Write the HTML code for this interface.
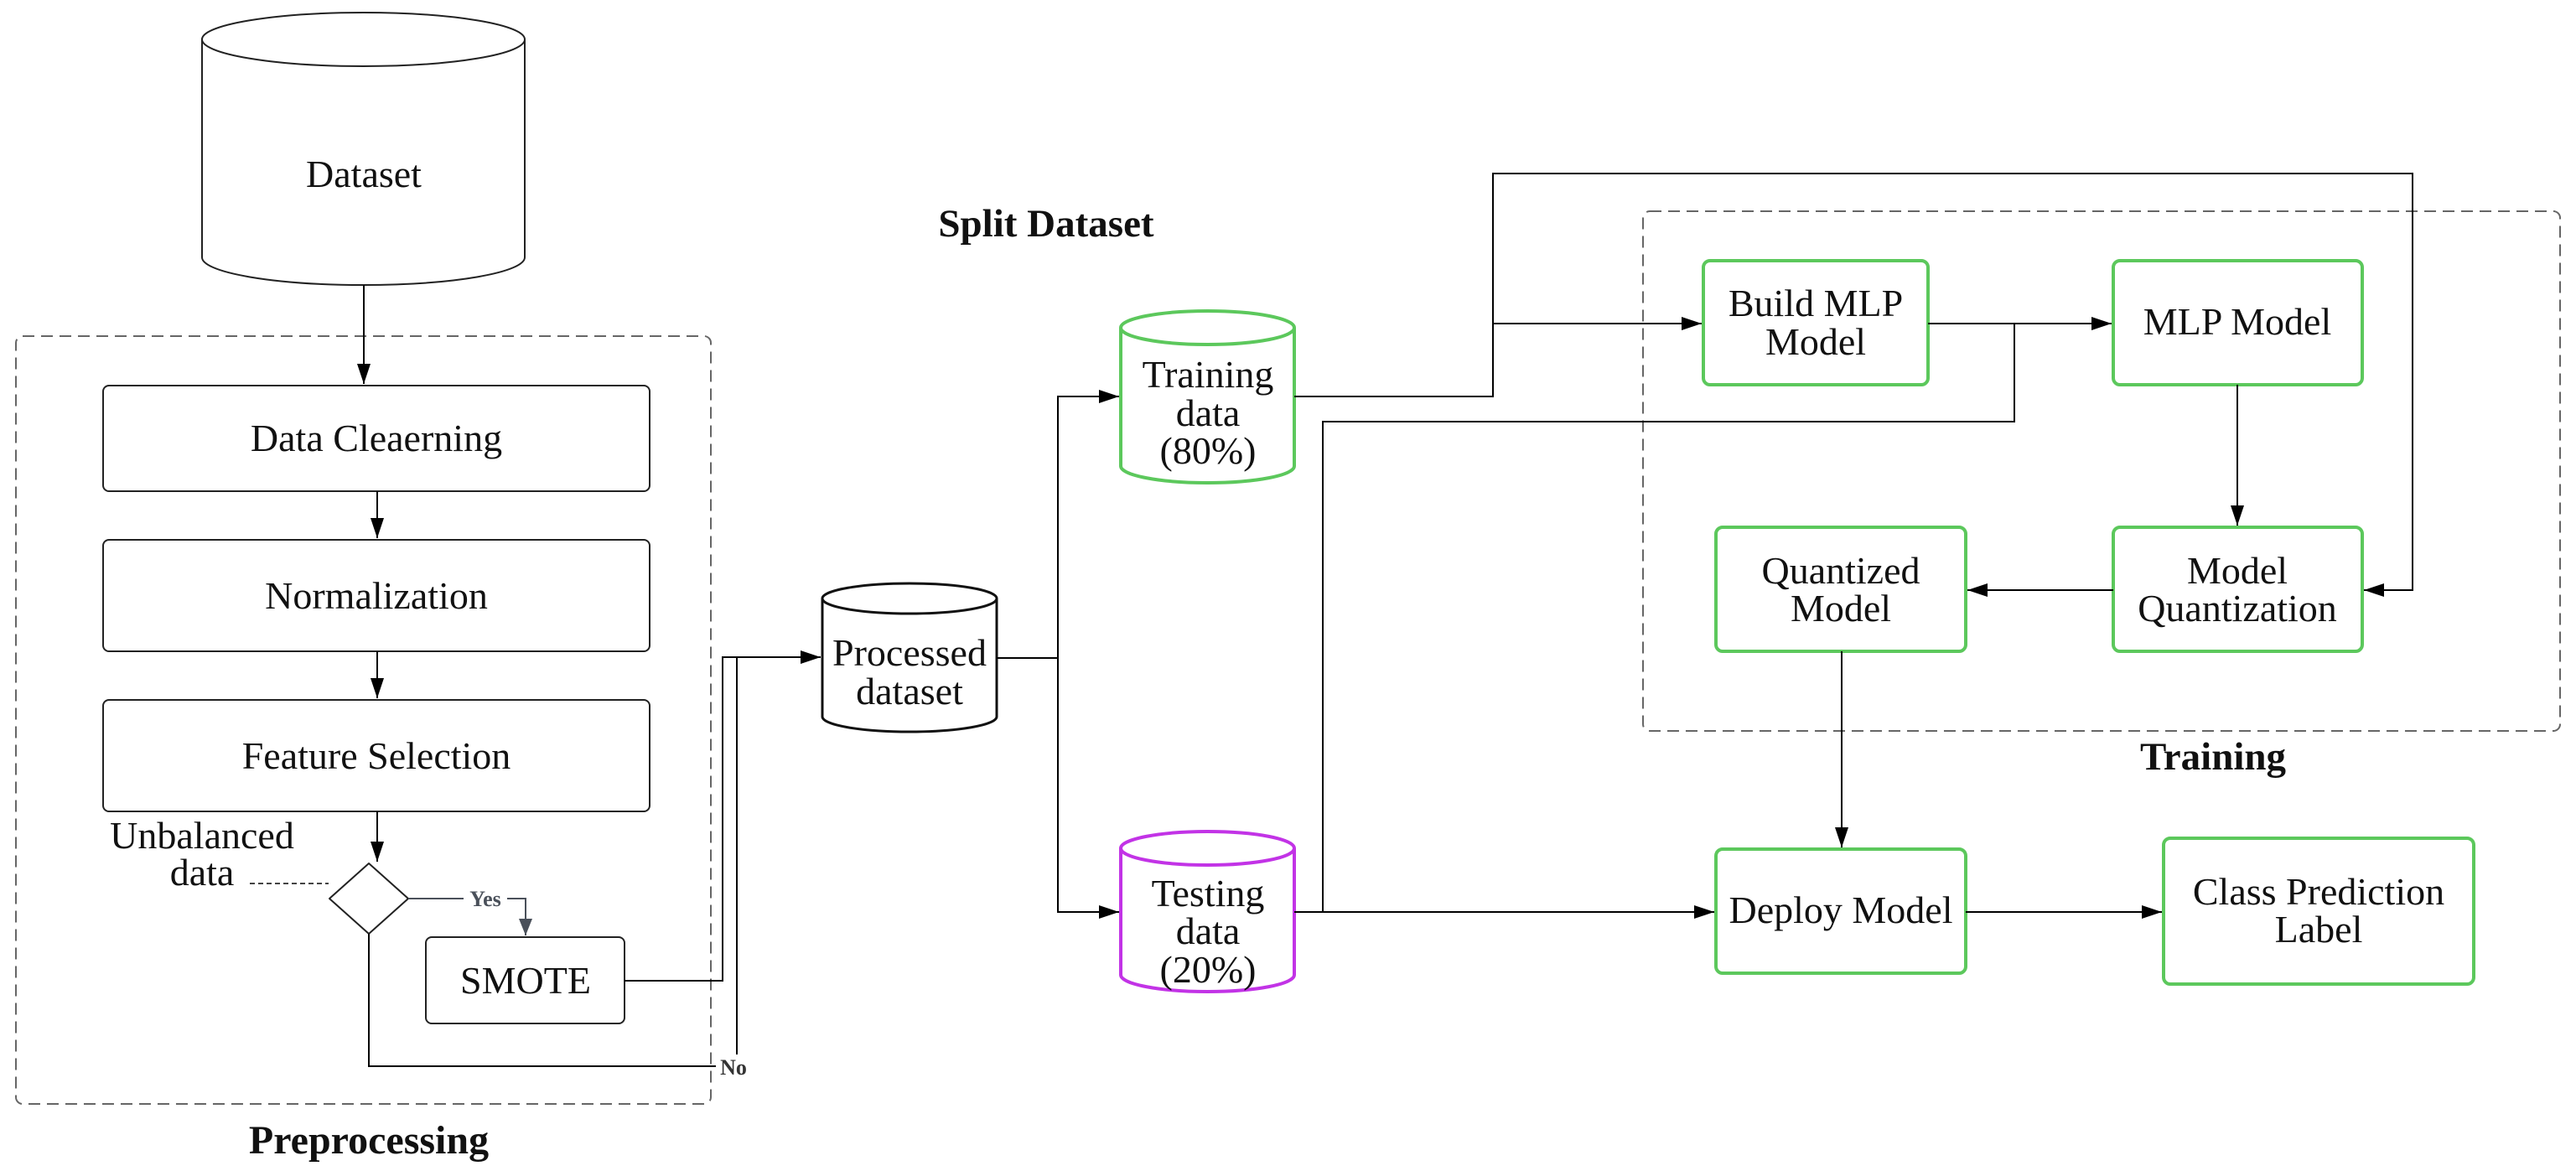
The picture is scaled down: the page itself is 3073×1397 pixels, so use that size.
<!DOCTYPE html>
<html><head><meta charset="utf-8"><style>
html,body{margin:0;padding:0;background:#fff;}
svg{display:block;}
text{font-family:"Liberation Serif",serif;fill:#111;}
</style></head><body>
<svg width="3073" height="1397" viewBox="0 0 3073 1397" xmlns="http://www.w3.org/2000/svg">
<defs>
<marker id="a" markerUnits="userSpaceOnUse" markerWidth="26" markerHeight="18" refX="24" refY="9" orient="auto"><path d="M0,1 L24,9 L0,17 z" fill="#000"/></marker>
<marker id="g" markerUnits="userSpaceOnUse" markerWidth="22" markerHeight="18" refX="20" refY="9" orient="auto"><path d="M0,1 L20,9 L0,17 z" fill="#4a505a"/></marker>
</defs>
<g fill="none" stroke="#666" stroke-width="2" stroke-dasharray="14,8">
<rect x="19" y="401" width="829" height="916" rx="8"/>
<rect x="1960" y="252" width="1094" height="620" rx="8"/>
</g>
<g fill="#fff" stroke="#222" stroke-width="2">
<path d="M241,47 V307 A192.5,33 0 0 0 626,307 V47"/>
<ellipse cx="433.5" cy="47" rx="192.5" ry="32"/>
</g>
<text x="434" y="223" font-size="46" text-anchor="middle">Dataset</text>
<g fill="#fff" stroke="#222" stroke-width="2">
<rect x="123" y="460" width="652" height="126" rx="7"/>
<rect x="123" y="644" width="652" height="133" rx="7"/>
<rect x="123" y="835" width="652" height="133" rx="7"/>
<rect x="508" y="1118" width="237" height="103" rx="7"/>
<path d="M440,1030 L487,1072 L440,1114 L393,1072 Z" stroke-linejoin="round"/>
</g>
<g font-size="46" text-anchor="middle">
<text x="449" y="538">Data Cleaerning</text>
<text x="449" y="726">Normalization</text>
<text x="449" y="917">Feature Selection</text>
<text x="627" y="1185">SMOTE</text>
<text x="241" y="1012">Unbalanced</text>
<text x="241" y="1056">data</text>
</g>
<g fill="none" stroke="#000" stroke-width="2">
<path d="M434,340 V458" marker-end="url(#a)"/>
<path d="M450,586 V642" marker-end="url(#a)"/>
<path d="M450,777 V833" marker-end="url(#a)"/>
<path d="M450,968 V1028" marker-end="url(#a)"/>
<path d="M298,1054 H392" stroke-dasharray="6,4" stroke="#444"/>
<path d="M487,1072 H627 V1116" stroke="#4a505a" marker-end="url(#g)"/>
<path d="M745,1170 H862 V784 H979" marker-end="url(#a)"/>
<path d="M440,1114 V1272 H879 V784"/>
</g>
<rect x="553" y="1058" width="52" height="28" fill="#fff"/>
<text x="579" y="1081" font-size="26" font-weight="bold" text-anchor="middle" style="fill:#4a505a">Yes</text>
<rect x="854" y="1258" width="42" height="28" fill="#fff"/>
<text x="875" y="1282" font-size="26" font-weight="bold" text-anchor="middle" style="fill:#333">No</text>
<text x="440" y="1376" font-size="48" font-weight="bold" text-anchor="middle">Preprocessing</text>
<text x="1248" y="282" font-size="47" font-weight="bold" text-anchor="middle">Split Dataset</text>
<text x="2640" y="918" font-size="47" font-weight="bold" text-anchor="middle">Training</text>
<g fill="#fff" stroke="#111" stroke-width="3">
<path d="M981,714 V855 A104,18 0 0 0 1189,855 V714"/>
<ellipse cx="1085" cy="714" rx="104" ry="18"/>
</g>
<text x="1085" y="794" font-size="46" text-anchor="middle">Processed</text>
<text x="1085" y="840" font-size="46" text-anchor="middle">dataset</text>
<g fill="#fff" stroke="#5cc85c" stroke-width="4">
<path d="M1337,391 V556 A103.5,20 0 0 0 1544,556 V391"/>
<ellipse cx="1440.5" cy="391" rx="103.5" ry="20"/>
</g>
<g font-size="46" text-anchor="middle">
<text x="1441" y="462">Training</text>
<text x="1441" y="508">data</text>
<text x="1441" y="553">(80%)</text>
</g>
<g fill="#fff" stroke="#c233e6" stroke-width="4">
<path d="M1337,1012 V1163 A103.5,20 0 0 0 1544,1163 V1012"/>
<ellipse cx="1440.5" cy="1012" rx="103.5" ry="20"/>
</g>
<g font-size="46" text-anchor="middle">
<text x="1441" y="1081">Testing</text>
<text x="1441" y="1126">data</text>
<text x="1441" y="1172">(20%)</text>
</g>
<g fill="#fff" stroke="#5cc85c" stroke-width="4">
<rect x="2032" y="311" width="268" height="148" rx="8"/>
<rect x="2521" y="311" width="297" height="148" rx="8"/>
<rect x="2521" y="629" width="297" height="148" rx="8"/>
<rect x="2047" y="629" width="298" height="148" rx="8"/>
<rect x="2047" y="1013" width="298" height="148" rx="8"/>
<rect x="2581" y="1000" width="370" height="174" rx="8"/>
</g>
<g font-size="46" text-anchor="middle">
<text x="2166" y="377">Build MLP</text>
<text x="2166" y="423">Model</text>
<text x="2669" y="399">MLP Model</text>
<text x="2669" y="696">Model</text>
<text x="2669" y="741">Quantization</text>
<text x="2196" y="696">Quantized</text>
<text x="2196" y="741">Model</text>
<text x="2196" y="1101">Deploy Model</text>
<text x="2766" y="1079">Class Prediction</text>
<text x="2766" y="1124">Label</text>
</g>
<g fill="none" stroke="#000" stroke-width="2">
<path d="M1189,785 H1262 V473 H1335" marker-end="url(#a)"/>
<path d="M1262,785 V1088 H1335" marker-end="url(#a)"/>
<path d="M1544,473 H1781 V386 H2030" marker-end="url(#a)"/>
<path d="M1781,386 V207 H2878 V704 H2820" marker-end="url(#a)"/>
<path d="M1544,1088 H2045" marker-end="url(#a)"/>
<path d="M1578,1088 V503 H2403 V386"/>
<path d="M2300,386 H2519" marker-end="url(#a)"/>
<path d="M2669,459 V627" marker-end="url(#a)"/>
<path d="M2521,704 H2347" marker-end="url(#a)"/>
<path d="M2197,777 V1011" marker-end="url(#a)"/>
<path d="M2345,1088 H2579" marker-end="url(#a)"/>
</g>
</svg>
</body></html>
